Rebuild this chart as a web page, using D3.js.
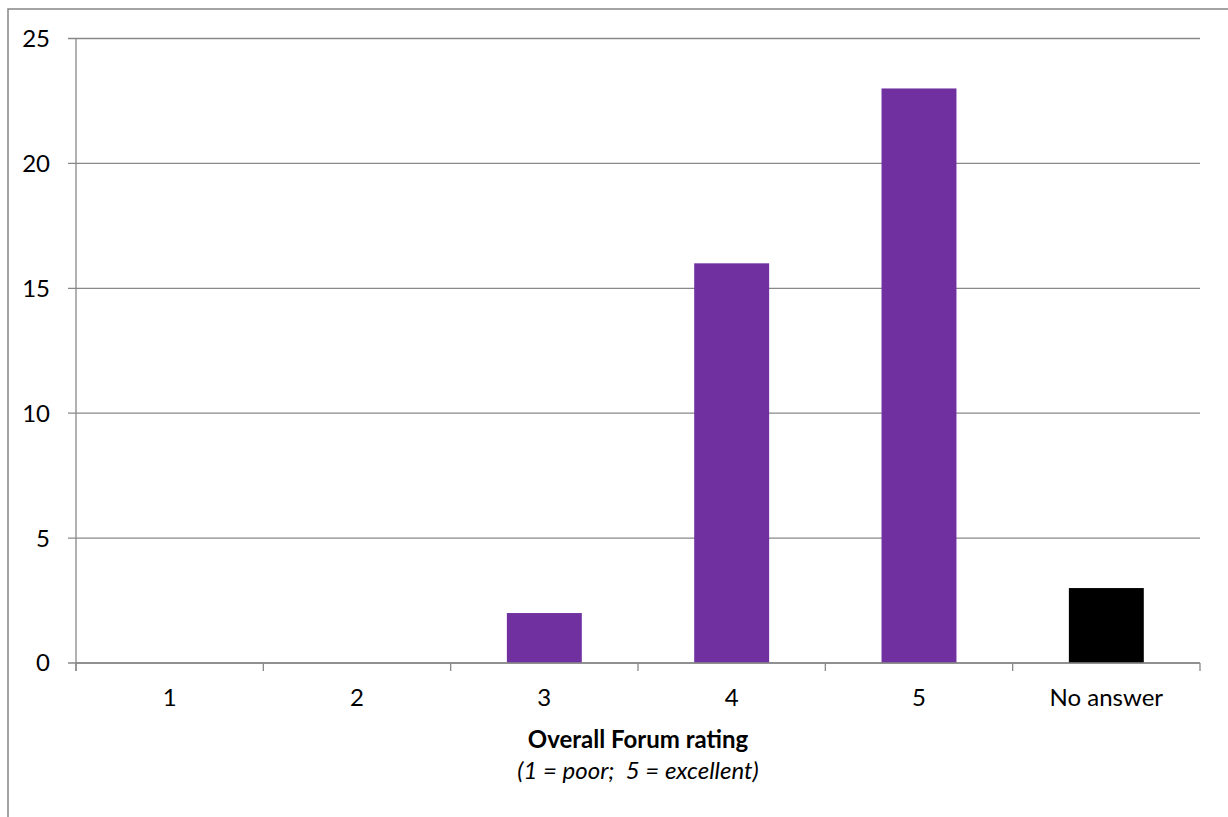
<!DOCTYPE html>
<html><head><meta charset="utf-8">
<script src="https://cdn.jsdelivr.net/npm/d3@7"></script>
<style>body{margin:0;background:#fff}svg{display:block;font-family:Lato,"Open Sans",sans-serif}</style>
</head><body>
<script>
const categories = ["1","2","3","4","5","No answer"];
const values = [0,0,2,16,23,3];
const barColors = ["#7030A0","#7030A0","#7030A0","#7030A0","#7030A0","#000000"];
const yTicks = [0,5,10,15,20,25];
const xTitle = "Overall Forum rating";
const xSubtitle = "(1 = poor;  5 = excellent)";

(function(){
const W = 1228, H = 817, fs = 24;
const svg = d3.select("body").append("svg").attr("width", W).attr("height", H);
svg.append("rect").attr("x",8).attr("y",9).attr("width",W+10).attr("height",H+10)
  .attr("fill","none").attr("stroke","#868686").attr("stroke-width",1.5);

const pl = 76, pr = 1200, pt = 38.5, pb = 663;
const x = d3.scaleBand().domain(categories).range([pl,pr]).paddingInner(0.6).paddingOuter(0.3);
const y = d3.scaleLinear().domain([0,25]).range([pb,pt]);
const grid = "#888888";

svg.append("g").selectAll("line").data(yTicks).join("line")
  .attr("x1",68).attr("x2",pr).attr("y1",d=>y(d)).attr("y2",d=>y(d))
  .attr("stroke",grid).attr("stroke-width",1.3);
svg.append("line").attr("x1",pl).attr("x2",pl).attr("y1",pt).attr("y2",pb+8)
  .attr("stroke",grid).attr("stroke-width",1.3);
svg.append("g").selectAll("text").data(yTicks).join("text")
  .attr("x",50).attr("y",d=>y(d)).attr("dy","0.35em").attr("text-anchor","end")
  .attr("font-size",fs).attr("fill","#000").text(d=>d);

svg.append("g").selectAll("rect").data(values).join("rect")
  .attr("x",(d,i)=>x(categories[i])).attr("width",x.bandwidth())
  .attr("y",d=>y(d)).attr("height",d=>pb-y(d))
  .attr("fill",(d,i)=>barColors[i]);

const bounds = d3.range(categories.length+1).map(i=>pl + i*(pr-pl)/categories.length);
svg.append("g").selectAll("line").data(bounds).join("line")
  .attr("x1",d=>d).attr("x2",d=>d).attr("y1",pb).attr("y2",pb+8)
  .attr("stroke",grid).attr("stroke-width",1.3);
svg.append("line").attr("x1",pl).attr("x2",pr).attr("y1",pb).attr("y2",pb)
  .attr("stroke",grid).attr("stroke-width",1.3);
svg.append("g").selectAll("text").data(categories).join("text")
  .attr("x",d=>x(d)+x.bandwidth()/2).attr("y",706).attr("text-anchor","middle")
  .attr("font-size",fs).attr("fill","#000").text(d=>d);

svg.append("text").attr("x",(pl+pr)/2).attr("y",748).attr("text-anchor","middle")
  .attr("font-size",fs).attr("font-weight","bold").text(xTitle);
svg.append("text").attr("x",(pl+pr)/2).attr("y",779).attr("text-anchor","middle")
  .attr("font-size",fs).attr("font-style","italic")
  .style("white-space","pre").text(xSubtitle);
})();
</script>
</body></html>
